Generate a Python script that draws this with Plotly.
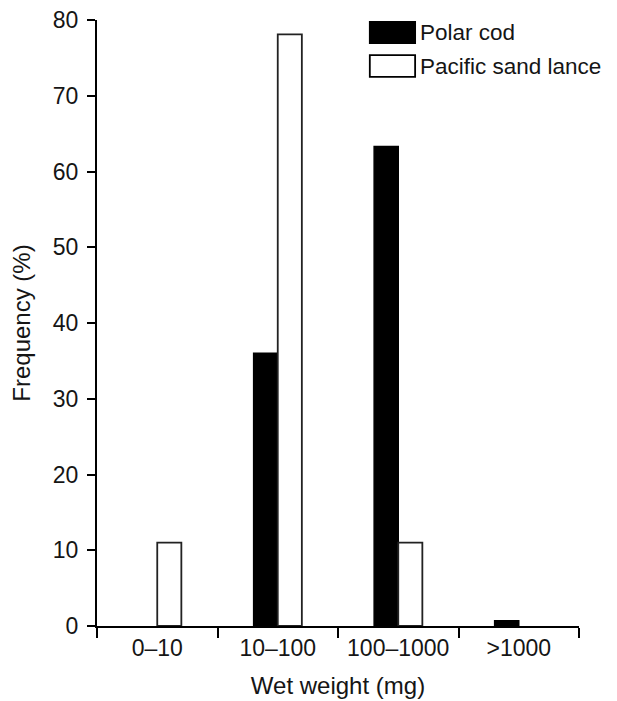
import plotly.graph_objects as go

categories = ["0–10", "10–100", "100–1000", ">1000"]
series_names = ["Polar cod", "Pacific sand lance"]
polar_cod = [0, 36.0, 63.3, 0.7]
sand_lance = [11.0, 78.1, 11.0, 0]
y_ticks = [0, 10, 20, 30, 40, 50, 60, 70, 80]

FONT = "Liberation Sans, Arial, Helvetica, sans-serif"
FS = 23
FS_LEG = 22.5
FS_TITLE = 24
TXT = "#151515"

fig = go.Figure()
fig.add_trace(go.Bar(
    x=categories, y=polar_cod, name=series_names[0],
    marker=dict(color="black",
                line=dict(color="black", width=[1.5 if v else 0 for v in polar_cod])),
    showlegend=False,
))
fig.add_trace(go.Bar(
    x=categories, y=sand_lance, name=series_names[1],
    marker=dict(color="white",
                line=dict(color="#222222", width=[1.8 if v else 0 for v in sand_lance])),
    showlegend=False,
))

# Legend drawn as swatches + labels (paper coordinates)
legend_rows = [(0.9967, 0.962, "black"), (0.942, 0.906, "white")]
for (y1, y0, col), name in zip(legend_rows, series_names):
    fig.add_shape(type="rect", xref="paper", yref="paper",
                  x0=0.566, x1=0.660, y0=y0, y1=y1,
                  fillcolor=col, line=dict(color="black", width=1.8))
    fig.add_annotation(xref="paper", yref="paper", x=0.667, y=(y0 + y1) / 2,
                       text=name, showarrow=False, xanchor="left", yanchor="middle",
                       font=dict(family=FONT, size=FS_LEG, color=TXT))

fig.update_layout(
    width=609, height=693,
    margin=dict(l=89, r=38, t=12, b=75),
    paper_bgcolor="white", plot_bgcolor="white",
    barmode="group", bargap=0.6, bargroupgap=0,
    font=dict(family=FONT, size=FS, color=TXT),
)
fig.update_xaxes(
    type="category", range=[-0.5, 3.5], automargin=False,
    tickson="boundaries", ticks="outside", ticklen=10, tickwidth=2, tickcolor="black",
    showline=True, linecolor="black", linewidth=2, showgrid=False, zeroline=False,
    tickfont=dict(family=FONT, size=FS, color=TXT),
    title=dict(text="Wet weight (mg)", font=dict(family=FONT, size=FS_TITLE, color=TXT), standoff=18),
)
fig.update_yaxes(
    range=[0, 80], tickvals=y_ticks, automargin=False,
    ticks="outside", ticklen=8, tickwidth=2, tickcolor="black",
    showline=True, linecolor="black", linewidth=2, showgrid=False, zeroline=False,
    tickfont=dict(family=FONT, size=FS, color=TXT), ticklabelstandoff=4,
    ticklabeloverflow="allow",
    title=dict(text="Frequency (%)", font=dict(family=FONT, size=FS_TITLE, color=TXT), standoff=22),
)

fig.write_html("out.html")
